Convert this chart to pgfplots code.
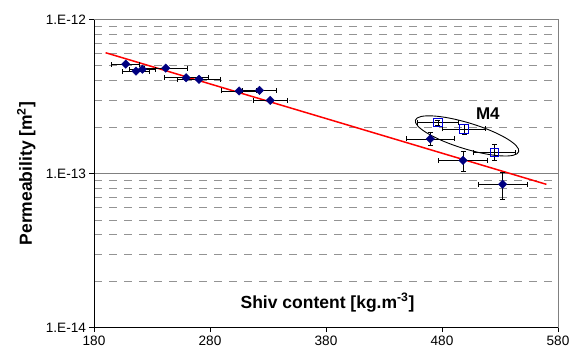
\documentclass[border=0pt]{standalone}
\usepackage{fontspec}
\setmainfont{Liberation Sans}
\usepackage{pgfplots}
\usepackage{pgfplotstable}
\pgfplotsset{compat=1.18}
\usetikzlibrary{calc}
\definecolor{navy}{RGB}{0,0,128}
\definecolor{sqblue}{RGB}{0,0,220}
\definecolor{gridgray}{RGB}{128,128,128}

\pgfplotstableread{
x y ex eyp eym
207.4 5.14e-13 12.0 0 0
216.2 4.63e-13 11.6 0 0
221.7 4.76e-13 11.6 0 0
241.9 4.84e-13 18.6 0 0
259.4 4.19e-13 19.0 0 0
270.6 4.09e-13 18.7 0 0
305.1 3.44e-13 15.0 0 0
322.6 3.47e-13 14.4 0 0
331.9 2.99e-13 14.4 0 0
469.9 1.68e-13 20.7 1.66e-14 1.51e-14
498.1 1.22e-13 21.0 1.65e-14 1.82e-14
532.3 8.53e-14 21.0 1.68e-14 1.68e-14
}\diamonds

\pgfplotstableread{
x y ex eyp eym
476.5 2.14e-13 17.6 0.8e-14 0.8e-14
499.0 1.95e-13 18.3 1.4e-14 1.4e-14
525.1 1.37e-13 18.4 1.7e-14 1.57e-14
}\squares

\begin{document}
\begin{tikzpicture}
\begin{axis}[
  name=ax,
  scale only axis,
  width=464pt, height=308.2pt,
  xmin=180, xmax=580,
  ymode=log, ymin=1e-14, ymax=1e-12,
  axis x line*=bottom, axis y line*=left,
  x axis line style={-}, y axis line style={-},
  xtick={180,280,380,480,580},
  xticklabels={180,280,380,480,580},
  ytick={1e-14,1e-13,1e-12},
  yticklabels={1.E-14,1.E-13,1.E-12},
  minor ytick={2e-14,3e-14,4e-14,5e-14,6e-14,7e-14,8e-14,9e-14,2e-13,3e-13,4e-13,5e-13,6e-13,7e-13,8e-13,9e-13},
  ymajorgrids, yminorgrids,
  major grid style={gridgray, line width=1pt},
  minor grid style={gridgray!85, line width=1pt, dash pattern=on 8pt off 7pt},
  tick align=outside,
  major tick length=4.5pt,
  minor tick length=0pt,
  tick style={black, line width=0.8pt},
  axis line style={black, line width=1pt},
  /pgf/number format/assume math mode=true,
  tick label style={font=\fontsize{13.6}{16}\selectfont},
  clip=false,
]
\addplot[red, line width=1.5pt, forget plot] coordinates {(190,6.09e-13) (570,8.52e-14)};

\addplot[only marks, mark=square*, mark size=3.0pt, mark options={rotate=45, fill=navy, draw=navy},
  error bars/.cd, x dir=both, x explicit, y dir=both, y explicit,
  error bar style={black, line width=0.8pt},
  error mark options={black, line width=0.8pt, mark size=2.5pt, rotate=90}]
  table[x=x, y=y, x error=ex, y error plus=eyp, y error minus=eym] {\diamonds};

\addplot[only marks, mark=square, mark size=4.2pt, mark options={draw=sqblue, line width=0.9pt},
  error bars/.cd, x dir=both, x explicit, y dir=both, y explicit,
  error bar style={black, line width=0.8pt},
  error mark options={black, line width=0.8pt, mark size=2.5pt, rotate=90}]
  table[x=x, y=y, x error=ex, y error plus=eyp, y error minus=eym] {\squares};

\draw[black, line width=0.9pt] (axis cs:501.6,1.757e-13) circle [x radius=54pt, y radius=13pt, rotate=-17];
\node[anchor=base, font=\bfseries\fontsize{17}{20}\selectfont] at (axis cs:519.5,2.23e-13) {M4};
\end{axis}
\draw[gridgray, line width=1pt] (ax.north west) -- (ax.north east) -- (ax.south east);
\node[anchor=base, font=\bfseries\fontsize{17.5}{20}\selectfont] at ($(ax.south west)+(233.5pt,19.7pt)$) {Shiv content [kg.m\textsuperscript{-3}]};
\node[anchor=base, rotate=90, font=\bfseries\fontsize{17.5}{20}\selectfont] at ($(ax.west)+(-62pt,0pt)$) {Permeability [m\textsuperscript{2}]};
\pgfresetboundingbox
\path[use as bounding box] ($(ax.south west)+(-94pt,-26.3pt)$) rectangle ($(ax.north east)+(13pt,19.5pt)$);
\end{tikzpicture}
\end{document}
